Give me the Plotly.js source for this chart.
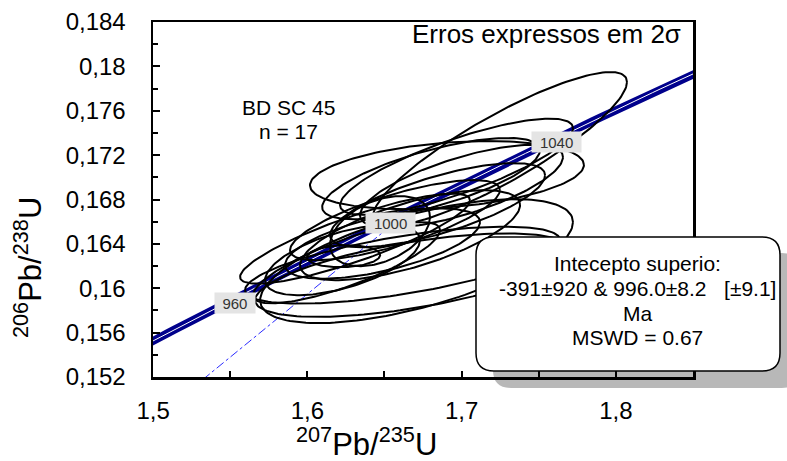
<!DOCTYPE html>
<html>
<head>
<meta charset="utf-8">
<script src="https://cdn.plot.ly/plotly-3.0.1.min.js"></script>
<style>html,body{margin:0;padding:0;background:#fff}#chart{width:787px;height:461px}</style>
</head>
<body>
<div id="chart"></div>
<script>
// ---- spot analyses (2-sigma errors, error correlation) ----
const ratio207_235 = [1.7249, 1.6967, 1.6802, 1.6999, 1.6708, 1.6617, 1.6682, 1.6309, 1.6254, 1.6235, 1.6905, 1.6471, 1.6568, 1.6844, 1.6666, 1.6228, 1.6487];
const err207_235   = [0.0823, 0.0755, 0.0706, 0.0658, 0.1014, 0.1021, 0.1021, 0.0745, 0.0606, 0.0237, 0.0888, 0.0324, 0.0680, 0.0697, 0.0713, 0.0502, 0.0632];
const ratio206_238 = [0.17254, 0.17096, 0.16988, 0.16920, 0.16244, 0.16208, 0.16118, 0.16447, 0.16230, 0.16289, 0.17020, 0.16515, 0.16614, 0.16749, 0.16478, 0.16253, 0.16402];
const err206_238   = [0.00695, 0.00433, 0.00367, 0.00374, 0.00559, 0.00347, 0.00376, 0.00406, 0.00366, 0.00099, 0.00307, 0.00316, 0.00361, 0.00379, 0.00406, 0.00316, 0.00316];
const rho          = [0.87, 0.80, 0.70, 0.70, 0.63, 0.65, 0.60, 0.85, 0.80, 0.10, 0.30, 0.40, 0.75, 0.71, 0.67, 0.57, 0.61];

// ---- concordia / discordia ----
const concordiaAgeLabels = [960, 1000, 1040];      // Ma
const concordiaAgeSpan   = [880, 1120];            // Ma
const interceptAges      = [-391, 996.0];          // Ma (lower, upper)
const lambda238 = 1.55125e-4;  // per Ma
const lambda235 = 9.8485e-4;   // per Ma

// ---- axis ticks ----
const xTickVals = [1.5, 1.6, 1.7, 1.8];
const xTickText = ['1,5', '1,6', '1,7', '1,8'];
const yTickVals = [0.152, 0.156, 0.16, 0.164, 0.168, 0.172, 0.176, 0.18, 0.184];
const yTickText = ['0,152', '0,156', '0,16', '0,164', '0,168', '0,172', '0,176', '0,18', '0,184'];

// ---- texts ----
const xTitle = '<sup>207</sup>Pb/<sup>235</sup>U';
const yTitle = '<sup>206</sup>Pb/<sup>238</sup>U';
const sampleLines = ['BD SC 45', 'n = 17'];
const errorNote = 'Erros expressos em 2σ';
const resultLines = ['Intecepto superio:', '-391±920 & 996.0±8.2\u00a0\u00a0\u00a0[±9.1]', 'Ma', 'MSWD = 0.67'];

const FONT = 'Liberation Sans, Arial, Helvetica, sans-serif';
const cX = t => Math.exp(lambda235 * t) - 1;
const cY = t => Math.exp(lambda238 * t) - 1;

// concordia curve
const cx = [], cy = [];
for (let t = concordiaAgeSpan[0]; t <= concordiaAgeSpan[1]; t += 2) { cx.push(cX(t)); cy.push(cY(t)); }

// discordia line through the two intercepts
const dX = interceptAges.map(cX), dY = interceptAges.map(cY);

function ellipse(i) {
  const ex = [], ey = [], N = 160;
  const r = rho[i], s = Math.sqrt(1 - r * r);
  for (let k = 0; k <= N; k++) {
    const th = 2 * Math.PI * k / N;
    ex.push(ratio207_235[i] + err207_235[i] * Math.cos(th));
    ey.push(ratio206_238[i] + err206_238[i] * (r * Math.cos(th) + s * Math.sin(th)));
  }
  return {ex, ey};
}

const traces = [
  {x: cx, y: cy, mode: 'lines', line: {color: '#00008c', width: 8}, hoverinfo: 'skip'},
  {x: cx, y: cy, mode: 'lines', line: {color: '#ffffff', width: 1}, hoverinfo: 'skip'},
  {x: dX, y: dY, mode: 'lines', line: {color: '#2a2aff', width: 1, dash: 'dashdot'}, hoverinfo: 'skip'}
];
for (let i = 0; i < ratio207_235.length; i++) {
  const e = ellipse(i);
  traces.push({x: e.ex, y: e.ey, mode: 'lines', line: {color: '#000000', width: 2}, hoverinfo: 'skip'});
}

// pixel helpers for paper placement
const L = 153, R = 94, T = 22, B = 84, W = 787, H = 461;
const PW = W - L - R, PH = H - T - B;
const px = x => (x - L) / PW;
const py = y => (H - B - y) / PH;
function roundRect(x0, y0, x1, y1, r) {
  const P = (x, y) => px(x).toFixed(5) + ',' + py(y).toFixed(5);
  return 'M' + P(x0 + r, y0) + ' L' + P(x1 - r, y0) + ' Q' + P(x1, y0) + ' ' + P(x1, y0 + r) +
    ' L' + P(x1, y1 - r) + ' Q' + P(x1, y1) + ' ' + P(x1 - r, y1) +
    ' L' + P(x0 + r, y1) + ' Q' + P(x0, y1) + ' ' + P(x0, y1 - r) +
    ' L' + P(x0, y0 + r) + ' Q' + P(x0, y0) + ' ' + P(x0 + r, y0) + ' Z';
}

const annotations = [];
concordiaAgeLabels.forEach(a => annotations.push({
  x: cX(a), y: cY(a), xref: 'x', yref: 'y', text: String(a), showarrow: false,
  xanchor: 'right', yanchor: 'middle', xshift: -11, yshift: -21,
  bgcolor: '#e4e4e4', borderpad: 1, width: 10 + 9.3 * String(a).length, height: 18,
  font: {family: FONT, size: 15, color: '#333333'}
}));
annotations.push({x: px(683), y: py(34), xref: 'paper', yref: 'paper', text: errorNote, showarrow: false,
  xanchor: 'right', yanchor: 'middle', font: {family: FONT, size: 26, color: '#000'}});
[107, 131].forEach((yy, i) => annotations.push({x: px(288), y: py(yy), xref: 'paper', yref: 'paper',
  text: sampleLines[i], showarrow: false, xanchor: 'center', yanchor: 'middle',
  font: {family: FONT, size: 21, color: '#000'}}));
[263, 288, 313, 337].forEach((yy, i) => annotations.push({x: px(637), y: py(yy), xref: 'paper', yref: 'paper',
  text: resultLines[i], showarrow: false, xanchor: 'center', yanchor: 'middle',
  font: {family: FONT, size: 21, color: '#000'}}));
// axis titles (placed like the original, off-centre)
annotations.push({x: px(366), y: py(442), xref: 'paper', yref: 'paper', text: xTitle, showarrow: false,
  xanchor: 'center', yanchor: 'middle', font: {family: FONT, size: 31, color: '#000'}});
annotations.push({x: px(28), y: py(268), xref: 'paper', yref: 'paper', text: yTitle, showarrow: false,
  textangle: -90, xanchor: 'center', yanchor: 'middle', font: {family: FONT, size: 31, color: '#000'}});

const shapes = [
  {type: 'path', xref: 'paper', yref: 'paper', layer: 'above', path: roundRect(493, 253, 800, 388, 18),
   fillcolor: 'rgba(0,0,0,0.28)', line: {width: 0}},
  {type: 'path', xref: 'paper', yref: 'paper', layer: 'above', path: roundRect(476, 237, 780, 371, 18),
   fillcolor: '#ffffff', line: {color: '#000', width: 1.5}}
];

const axisCommon = {
  showgrid: false, zeroline: false, showline: true, linecolor: '#000', linewidth: 2.5, mirror: true,
  ticks: 'inside', tickcolor: '#000', tickwidth: 2, tickmode: 'array',
  tickfont: {family: FONT, size: 24, color: '#000'}
};

const layout = {
  width: W, height: H, margin: {l: L, r: R, t: T, b: B},
  paper_bgcolor: '#fff', plot_bgcolor: '#fff', showlegend: false,
  xaxis: Object.assign({}, axisCommon, {
    range: [1.49995, 1.85], tickvals: xTickVals, ticktext: xTickText, ticklen: 6, ticklabelstandoff: 11,
    minor: {dtick: 0.05, tick0: 1.5, ticks: 'inside', ticklen: 6, tickwidth: 2, tickcolor: '#000', showgrid: false}
  }),
  yaxis: Object.assign({}, axisCommon, {
    range: [0.151995, 0.184005], tickvals: yTickVals, ticktext: yTickText, ticklen: 7, ticklabelstandoff: 20,
    minor: {dtick: 0.002, tick0: 0.152, ticks: 'inside', ticklen: 5, tickwidth: 2, tickcolor: '#000', showgrid: false}
  }),
  annotations: annotations,
  shapes: shapes
};

Plotly.newPlot('chart', traces, layout, {staticPlot: true, displayModeBar: false});
</script>
</body>
</html>
